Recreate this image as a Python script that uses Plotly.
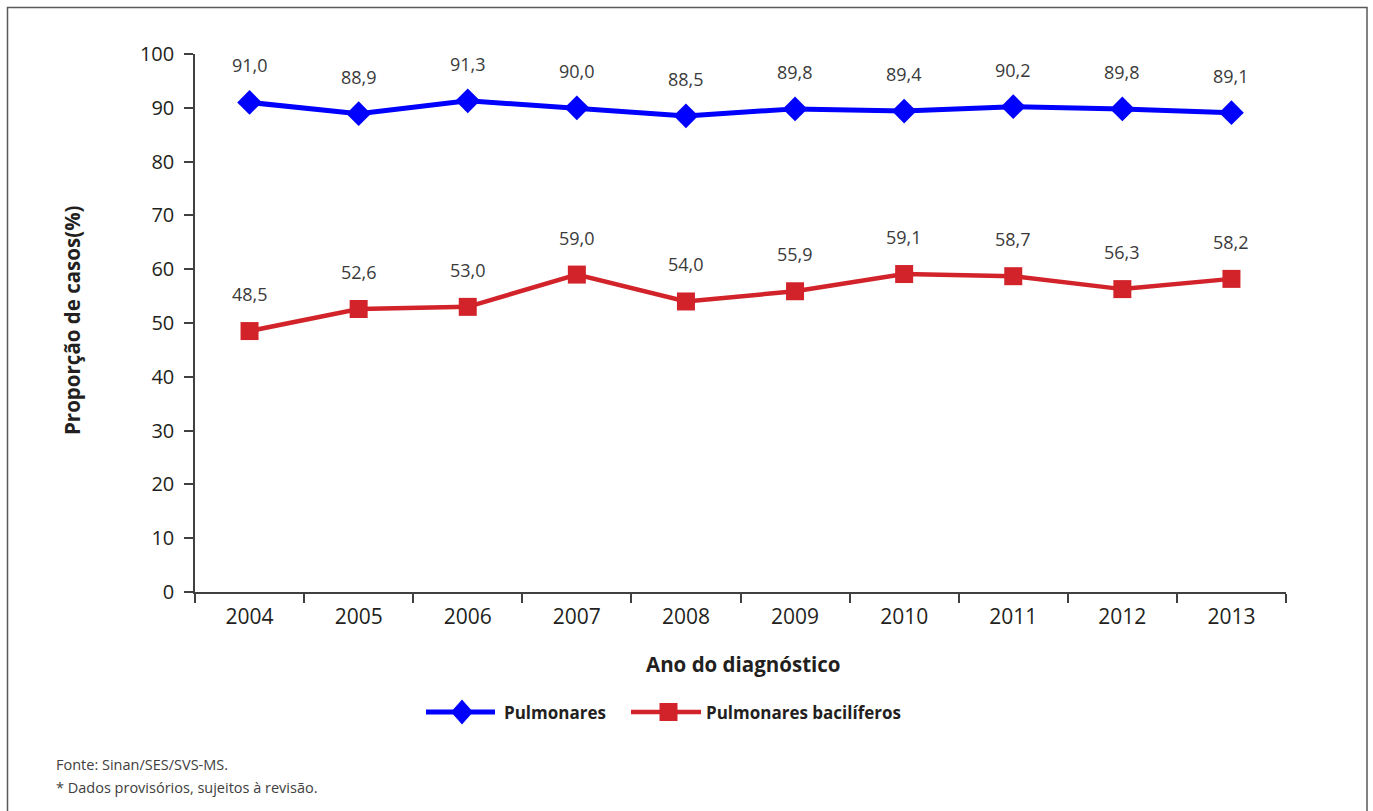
import plotly.graph_objects as go

# Data
anos = ["2004", "2005", "2006", "2007", "2008", "2009", "2010", "2011", "2012", "2013"]
pulmonares = [91.0, 88.9, 91.3, 90.0, 88.5, 89.8, 89.4, 90.2, 89.8, 89.1]
bacliferos = [48.5, 52.6, 53.0, 59.0, 54.0, 55.9, 59.1, 58.7, 56.3, 58.2]
y_ticks = [0, 10, 20, 30, 40, 50, 60, 70, 80, 90, 100]

AZUL = "#0000FF"
VERMELHO = "#D2232A"
FONT = "Open Sans"


def fmt(v):
    return f"{v:.1f}".replace(".", ",")


fig = go.Figure()

fig.add_trace(go.Scatter(
    x=anos, y=pulmonares, mode="lines+markers", name="Pulmonares",
    line=dict(color=AZUL, width=5),
    marker=dict(symbol="diamond", size=19, color=AZUL),
    showlegend=False, cliponaxis=False,
))
fig.add_trace(go.Scatter(
    x=anos, y=bacliferos, mode="lines+markers", name="Pulmonares bacilíferos",
    line=dict(color=VERMELHO, width=4.5),
    marker=dict(symbol="square", size=18, color=VERMELHO),
    showlegend=False, cliponaxis=False,
))

# value labels above each point (category axis positions by index)
annotations = []
for serie in (pulmonares, bacliferos):
    for i, v in enumerate(serie):
        annotations.append(dict(
            x=i, y=v, xref="x", yref="y", text=fmt(v), showarrow=False,
            yshift=37, font=dict(family=FONT, size=18, color="#3a3a3a"),
        ))

# Helpers to place page furniture in paper coordinates
W, H = 1091.0, 538.0
X0, Y0 = 195.0, 592.0


def px(x):
    return (x - X0) / W


def py(y):
    return (Y0 - y) / H


leg_y = py(712)
shapes = [
    # outer frame
    dict(type="rect", xref="paper", yref="paper",
         x0=px(7.5), x1=px(1367), y0=py(830), y1=py(7.5),
         line=dict(color="#5a5a5a", width=1.5), fillcolor="rgba(0,0,0,0)", layer="below"),
    # legend: Pulmonares
    dict(type="line", xref="paper", yref="paper", x0=px(426), x1=px(495), y0=leg_y, y1=leg_y,
         line=dict(color=AZUL, width=5)),
    dict(type="path", xref="paper", yref="paper", xsizemode="pixel", ysizemode="pixel",
         xanchor=px(462), yanchor=leg_y,
         path="M -11 0 L 0 12.5 L 11 0 L 0 -12.5 Z", fillcolor=AZUL, line=dict(width=0)),
    # legend: Pulmonares bacilíferos
    dict(type="line", xref="paper", yref="paper", x0=px(631), x1=px(701), y0=leg_y, y1=leg_y,
         line=dict(color=VERMELHO, width=4.5)),
    dict(type="rect", xref="paper", yref="paper", xsizemode="pixel", ysizemode="pixel",
         xanchor=px(668.5), yanchor=leg_y, x0=-9, x1=9, y0=-9, y1=9,
         fillcolor=VERMELHO, line=dict(width=0)),
]

annotations += [
    dict(x=px(502), y=leg_y, xref="paper", yref="paper", xanchor="left", yanchor="middle",
         text="<b>Pulmonares</b>", showarrow=False, font=dict(family=FONT, size=17, color="#231f20")),
    dict(x=px(704), y=leg_y, xref="paper", yref="paper", xanchor="left", yanchor="middle",
         text="<b>Pulmonares bacilíferos</b>", showarrow=False,
         font=dict(family=FONT, size=17, color="#231f20")),
    dict(x=px(743), y=py(664), xref="paper", yref="paper", xanchor="center", yanchor="middle",
         text="<b>Ano do diagnóstico</b>", showarrow=False,
         font=dict(family=FONT, size=20.5, color="#231f20")),
    dict(x=px(72), y=py(320), xref="paper", yref="paper", xanchor="center", yanchor="middle",
         text="<b>Proporção de casos(%)</b>", showarrow=False, textangle=-90,
         font=dict(family=FONT, size=20.5, color="#231f20")),
    dict(x=px(54), y=py(764), xref="paper", yref="paper", xanchor="left", yanchor="middle",
         text="Fonte: Sinan/SES/SVS-MS.", showarrow=False,
         font=dict(family=FONT, size=14.5, color="#404040")),
    dict(x=px(54), y=py(787), xref="paper", yref="paper", xanchor="left", yanchor="middle",
         text="* Dados provisórios, sujeitos à revisão.", showarrow=False,
         font=dict(family=FONT, size=14.5, color="#404040")),
]

fig.update_layout(
    width=1373, height=811,
    margin=dict(l=195, r=87, t=54, b=219),
    paper_bgcolor="white", plot_bgcolor="white",
    font=dict(family=FONT, color="#231f20"),
    shapes=shapes, annotations=annotations,
    showlegend=False,
)
fig.update_xaxes(
    type="category", categoryorder="array", categoryarray=anos,
    range=[-0.5, len(anos) - 0.5],
    showline=True, linecolor="#404040", linewidth=1.5,
    ticks="outside", tickson="boundaries", ticklen=9, tickwidth=1.5, tickcolor="#404040",
    tickfont=dict(family=FONT, size=21, color="#231f20"), ticklabelstandoff=5,
    showgrid=False, zeroline=False, fixedrange=True,
)
fig.update_yaxes(
    range=[0, 100], tickvals=y_ticks,
    showline=True, linecolor="#404040", linewidth=1.5,
    ticks="outside", ticklen=9, tickwidth=1.5, tickcolor="#404040",
    tickfont=dict(family=FONT, size=20, color="#231f20"), ticklabelstandoff=6,
    showgrid=False, zeroline=False, fixedrange=True,
)

fig.write_html("out.html")
